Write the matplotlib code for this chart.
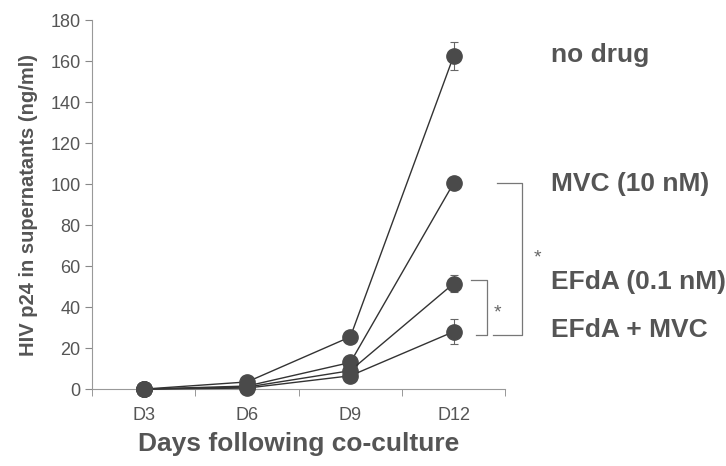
import matplotlib.pyplot as plt

plt.rcParams['font.family'] = ['Liberation Sans', 'DejaVu Sans']

days = ['D3', 'D6', 'D9', 'D12']
no_drug = [0, 3.5, 25.5, 162.5]
no_drug_err = [0, 0, 0, 7]
mvc = [0, 1.5, 13, 100.5]
mvc_err = [0, 0, 0, 1]
efda = [0, 1, 9, 51.5]
efda_err = [0, 0, 0, 4]
efda_mvc = [0, 0.5, 6.5, 28]
efda_mvc_err = [0, 0, 0, 6]
labels = ['no drug', 'MVC (10 nM)', 'EFdA (0.1 nM)', 'EFdA + MVC']
label_y = [163, 100, 52, 29]

grey = '#555555'
fig = plt.figure(figsize=(7.26, 4.66), dpi=100)
ax = fig.add_axes([0.127, 0.165, 0.569, 0.792])

x = list(range(len(days)))
for vals, errs in [(no_drug, no_drug_err), (mvc, mvc_err), (efda, efda_err), (efda_mvc, efda_mvc_err)]:
    ax.errorbar(x, vals, yerr=errs, color='#333333', lw=1, marker='o', markersize=11,
                markerfacecolor='#4a4a4a', markeredgecolor='#4a4a4a',
                ecolor='#666666', elinewidth=0.8, capsize=3, capthick=0.8, clip_on=False, zorder=3)

ax.set_xlim(-0.5, 3.5)
ax.set_ylim(0, 180)
ax.set_yticks(range(0, 181, 20))
ax.set_xticks(x)
ax.set_xticklabels(days)
ax.set_xticks([-0.5, 0.5, 1.5, 2.5, 3.5], minor=True)
ax.tick_params(axis='x', which='major', length=0, pad=13, labelsize=13, labelcolor=grey)
ax.tick_params(axis='x', which='minor', length=5, color='#888888', direction='out')
ax.tick_params(axis='y', length=5, color='#888888', labelsize=13, labelcolor=grey)
for s in ['top', 'right']:
    ax.spines[s].set_visible(False)
for s in ['left', 'bottom']:
    ax.spines[s].set_color('#999999')
    ax.spines[s].set_linewidth(0.8)

ax.set_xlabel('Days following co-culture', fontsize=19, fontweight='bold', color=grey, labelpad=6)
ax.set_ylabel('HIV p24 in supernatants (ng/ml)', fontsize=14.5, fontweight='bold', color=grey, labelpad=9)

for lab, ly in zip(labels, label_y):
    ax.text(3.94, ly, lab, fontsize=19, fontweight='bold', color=grey, va='center', ha='left', clip_on=False)

# significance brackets
bc = '#777777'
ax.plot([3.42, 3.66, 3.66, 3.38], [mvc[3], mvc[3], 26.5, 26.5], color=bc, lw=0.9, clip_on=False)
ax.text(3.81, 64, '*', fontsize=14, color='#666666', ha='center', va='center', clip_on=False)
ax.plot([3.17, 3.32, 3.32, 3.22], [efda[3] + 1.5, efda[3] + 1.5, 26.5, 26.5], color=bc, lw=0.9, clip_on=False)
ax.text(3.42, 37, '*', fontsize=14, color='#666666', ha='center', va='center', clip_on=False)

fig.savefig('out.png', dpi=100)
